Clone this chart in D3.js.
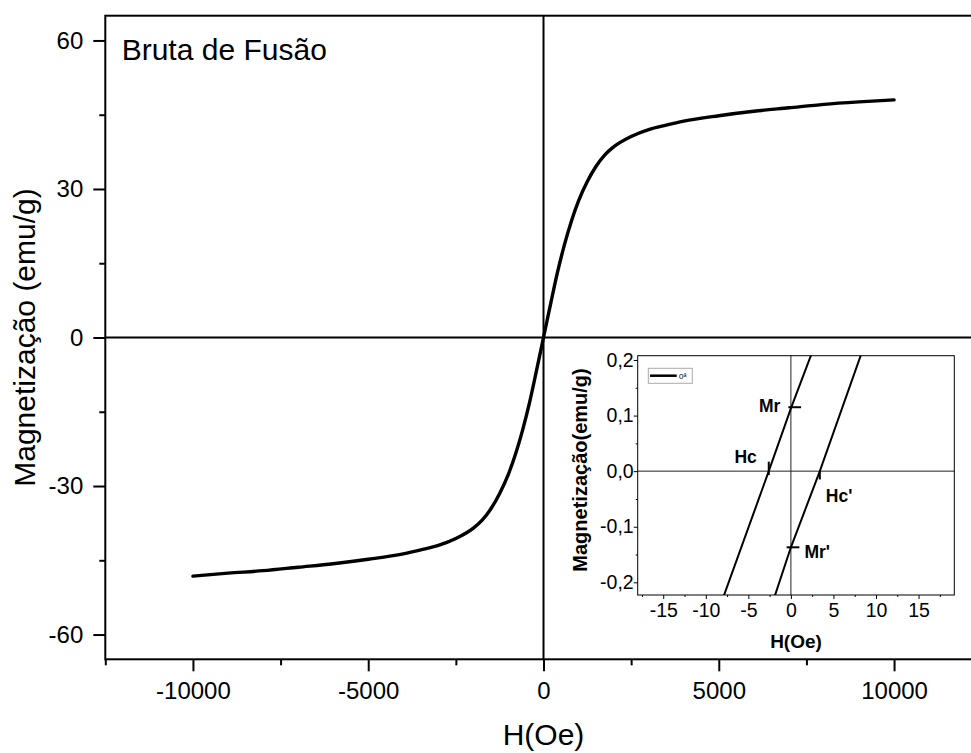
<!DOCTYPE html>
<html>
<head>
<meta charset="utf-8">
<script src="https://cdn.jsdelivr.net/npm/d3@7"></script>
<style>
  html, body { margin: 0; padding: 0; background: #fff; }
  svg { display: block; font-family: "Liberation Sans", Arial, sans-serif; }
</style>
</head>
<body>
<svg id="chart" width="971" height="753"></svg>
<script>
// Hysteresis loop of the as-cast sample, M(H)
const fieldOe = [-10000, -9000, -8000, -7000, -6000, -5000, -4000, -3500, -3000, -2500,
                 -2000, -1750, -1500, -1250, -1000, -800, -600, -400, -200, 0,
                 200, 400, 600, 800, 1000, 1250, 1500, 1750, 2000, 2500,
                 3000, 3500, 4000, 5000, 6000, 7000, 8000, 9000, 10000];
const magnetization = [-48.2, -47.6, -47.1, -46.4, -45.7, -44.8, -43.7, -42.9, -42.0, -40.6,
                       -38.5, -36.9, -34.6, -31.5, -27.6, -23.6, -18.8, -13.2, -6.7, 0,
                       6.7, 13.2, 18.8, 23.6, 27.6, 31.5, 34.6, 36.9, 38.5, 40.6,
                       42.0, 42.9, 43.7, 44.8, 45.7, 46.4, 47.1, 47.6, 48.0];

const xMajorTicks = [-10000, -5000, 0, 5000, 10000];
const xMinorTicks = [-12500, -7500, -2500, 2500, 7500, 12500];
const yMajorTicks = [-60, -30, 0, 30, 60];
const yMinorTicks = [-45, -15, 15, 45];

// Inset: low-field detail of both branches
const insetFieldDown = [-7.9, -2.6, 0, 2.4];
const insetMagDown   = [-0.225, 0, 0.113, 0.21];
const insetFieldUp   = [-1.9, 0, 3.4, 8.25];
const insetMagUp     = [-0.225, -0.137, 0, 0.21];

const remanence = [0.115, -0.137];      // Mr, Mr'
const coercivity = [-2.6, 3.4];         // Hc, Hc'

const insetXMajor = [-15, -10, -5, 0, 5, 10, 15];
const insetXMinor = [-17.5, -12.5, -7.5, -2.5, 2.5, 7.5, 12.5, 17.5];
const insetYMajor = [-0.2, -0.1, 0, 0.1, 0.2];
const insetYMinor = [-0.15, -0.05, 0.05, 0.15];

(function draw() {
const svg = d3.select("#chart");
const hyphen = s => String(s).replace("\u2212", "-");

// ---------- main plot ----------
const pL = 105.3, pR = 981.7, pT = 15.7, pB = 659.3;
const x = d3.scaleLinear().domain([-12500, 12500]).range([pL, pR]);
const y = d3.scaleLinear().domain([-65, 65]).range([pB, pT]);

const main = svg.append("g");

// zero lines
main.append("line").attr("x1", pL).attr("x2", pR)
  .attr("y1", y(0)).attr("y2", y(0)).attr("stroke", "#000").attr("stroke-width", 2);
main.append("line").attr("x1", x(0)).attr("x2", x(0))
  .attr("y1", pT).attr("y2", pB).attr("stroke", "#000").attr("stroke-width", 2);

// frame
main.append("rect").attr("x", pL).attr("y", pT)
  .attr("width", pR - pL).attr("height", pB - pT)
  .attr("fill", "none").attr("stroke", "#000").attr("stroke-width", 2);

function styleAxis(g, fontSize) {
  g.select(".domain").remove();
  g.selectAll(".tick line").attr("stroke", "#000").attr("stroke-width", 2);
  g.selectAll(".tick text").attr("fill", "#000").attr("font-size", fontSize)
    .attr("font-family", "Liberation Sans, Arial, sans-serif");
}

const xAxisMajor = main.append("g").attr("transform", `translate(0,${pB})`)
  .call(d3.axisBottom(x).tickValues(xMajorTicks).tickSize(12).tickPadding(11)
        .tickFormat(d => hyphen(d3.format("d")(d))));
styleAxis(xAxisMajor, 24);
const xAxisMinor = main.append("g").attr("transform", `translate(0,${pB})`)
  .call(d3.axisBottom(x).tickValues(xMinorTicks).tickSize(6).tickFormat(""));
styleAxis(xAxisMinor, 24);

const yAxisMajor = main.append("g").attr("transform", `translate(${pL},0)`)
  .call(d3.axisLeft(y).tickValues(yMajorTicks).tickSize(12).tickPadding(10)
        .tickFormat(d => hyphen(d3.format("d")(d))));
styleAxis(yAxisMajor, 24);
const yAxisMinor = main.append("g").attr("transform", `translate(${pL},0)`)
  .call(d3.axisLeft(y).tickValues(yMinorTicks).tickSize(6).tickFormat(""));
styleAxis(yAxisMinor, 24);

// loop curve
const loopData = fieldOe.map((h, i) => ({ h, m: magnetization[i] }));
main.append("path").datum(loopData)
  .attr("fill", "none").attr("stroke", "#000").attr("stroke-width", 3.4)
  .attr("stroke-linejoin", "round").attr("stroke-linecap", "round")
  .attr("d", d3.line().x(d => x(d.h)).y(d => y(d.m)).curve(d3.curveMonotoneX));

// titles
main.append("text").attr("x", 121.7).attr("y", 59.5)
  .attr("font-size", 30).text("Bruta de Fusão");
main.append("text").attr("x", x(0)).attr("y", 745).attr("text-anchor", "middle")
  .attr("font-size", 30).text("H(Oe)");
main.append("text")
  .attr("transform", `translate(35,${y(0)}) rotate(-90)`)
  .attr("text-anchor", "middle").attr("font-size", 30)
  .text("Magnetização (emu/g)");

// ---------- inset ----------
const il = 637.7, ir = 954.3, it = 355.7, ib = 595;
const ix = d3.scaleLinear().domain([-18, 19.2]).range([il, ir]);
const iy = d3.scaleLinear().domain([-0.2228, 0.2077]).range([ib, it]);
const inset = svg.append("g");

inset.append("clipPath").attr("id", "insetClip")
  .append("rect").attr("x", il).attr("y", it).attr("width", ir - il).attr("height", ib - it);

// zero lines
inset.append("line").attr("x1", il).attr("x2", ir).attr("y1", iy(0)).attr("y2", iy(0))
  .attr("stroke", "#222").attr("stroke-width", 1);
inset.append("line").attr("x1", ix(0)).attr("x2", ix(0)).attr("y1", it).attr("y2", ib)
  .attr("stroke", "#222").attr("stroke-width", 1);

const commaFmt = d => hyphen(d3.format(".1f")(d)).replace(".", ",");

const ixMajor = inset.append("g").attr("transform", `translate(0,${ib})`)
  .call(d3.axisBottom(ix).tickValues(insetXMajor).tickSize(4).tickPadding(4)
        .tickFormat(d => hyphen(d3.format("d")(d))));
styleAxis(ixMajor, 19.5);
ixMajor.selectAll(".tick line").attr("stroke-width", 1);
const ixMinor = inset.append("g").attr("transform", `translate(0,${ib})`)
  .call(d3.axisBottom(ix).tickValues(insetXMinor).tickSize(2).tickFormat(""));
styleAxis(ixMinor, 19.5);
ixMinor.selectAll(".tick line").attr("stroke-width", 1);

const iyMajor = inset.append("g").attr("transform", `translate(${il},0)`)
  .call(d3.axisLeft(iy).tickValues(insetYMajor).tickSize(4).tickPadding(0)
        .tickFormat(commaFmt));
styleAxis(iyMajor, 19.5);
iyMajor.selectAll(".tick line").attr("stroke-width", 1);
const iyMinor = inset.append("g").attr("transform", `translate(${il},0)`)
  .call(d3.axisLeft(iy).tickValues(insetYMinor).tickSize(2).tickFormat(""));
styleAxis(iyMinor, 19.5);
iyMinor.selectAll(".tick line").attr("stroke-width", 1);

inset.append("rect").attr("x", il).attr("y", it).attr("width", ir - il).attr("height", ib - it)
  .attr("fill", "none").attr("stroke", "#000").attr("stroke-width", 1);

// branches
const insetLine = d3.line().x(d => ix(d.h)).y(d => iy(d.m));
const branches = [
  insetFieldDown.map((h, i) => ({ h, m: insetMagDown[i] })),
  insetFieldUp.map((h, i) => ({ h, m: insetMagUp[i] }))
];
inset.append("g").attr("clip-path", "url(#insetClip)")
  .selectAll("path").data(branches).join("path")
  .attr("fill", "none").attr("stroke", "#000").attr("stroke-width", 2)
  .attr("d", insetLine);

// remanence / coercivity markers
function seg(x1, y1, x2, y2) {
  inset.append("line").attr("x1", x1).attr("y1", y1).attr("x2", x2).attr("y2", y2)
    .attr("stroke", "#000").attr("stroke-width", 2);
}
seg(ix(-0.3), iy(remanence[0]), ix(1.2), iy(remanence[0]));
seg(ix(-0.5), iy(remanence[1]), ix(1.0), iy(remanence[1]));
seg(ix(coercivity[0]), iy(0.017), ix(coercivity[0]), iy(-0.007));
seg(ix(coercivity[1]), iy(0), ix(coercivity[1]), iy(-0.015));

const ann = (tx, ty, anchor, label) => inset.append("text")
  .attr("x", tx).attr("y", ty).attr("text-anchor", anchor)
  .attr("font-size", 17.5).attr("font-weight", "bold").text(label);
ann(ix(-0.3) - 8, iy(remanence[0]) + 5, "end", "Mr");
ann(ix(coercivity[0]) - 12, iy(0) - 8, "end", "Hc");
ann(ix(coercivity[1]) + 6, iy(0) + 31, "start", "Hc'");
ann(ix(1.0) + 5, iy(remanence[1]) + 11, "start", "Mr'");

// legend
inset.append("rect").attr("x", 648.3).attr("y", 368.3).attr("width", 44).attr("height", 15)
  .attr("fill", "#fff").attr("stroke", "#aaa").attr("stroke-width", 1);
inset.append("line").attr("x1", 650).attr("x2", 676.7).attr("y1", 375.7).attr("y2", 375.7)
  .attr("stroke", "#000").attr("stroke-width", 2.5);
inset.append("text").attr("x", 679).attr("y", 379).attr("font-size", 8).text("0ª");

// inset titles
inset.append("text").attr("x", (il + ir) / 2).attr("y", 648).attr("text-anchor", "middle")
  .attr("font-size", 19).attr("font-weight", "bold").text("H(Oe)");
inset.append("text")
  .attr("transform", `translate(587,470) rotate(-90)`)
  .attr("text-anchor", "middle").attr("font-size", 20).attr("font-weight", "bold")
  .text("Magnetização(emu/g)");
})();
</script>
</body>
</html>
